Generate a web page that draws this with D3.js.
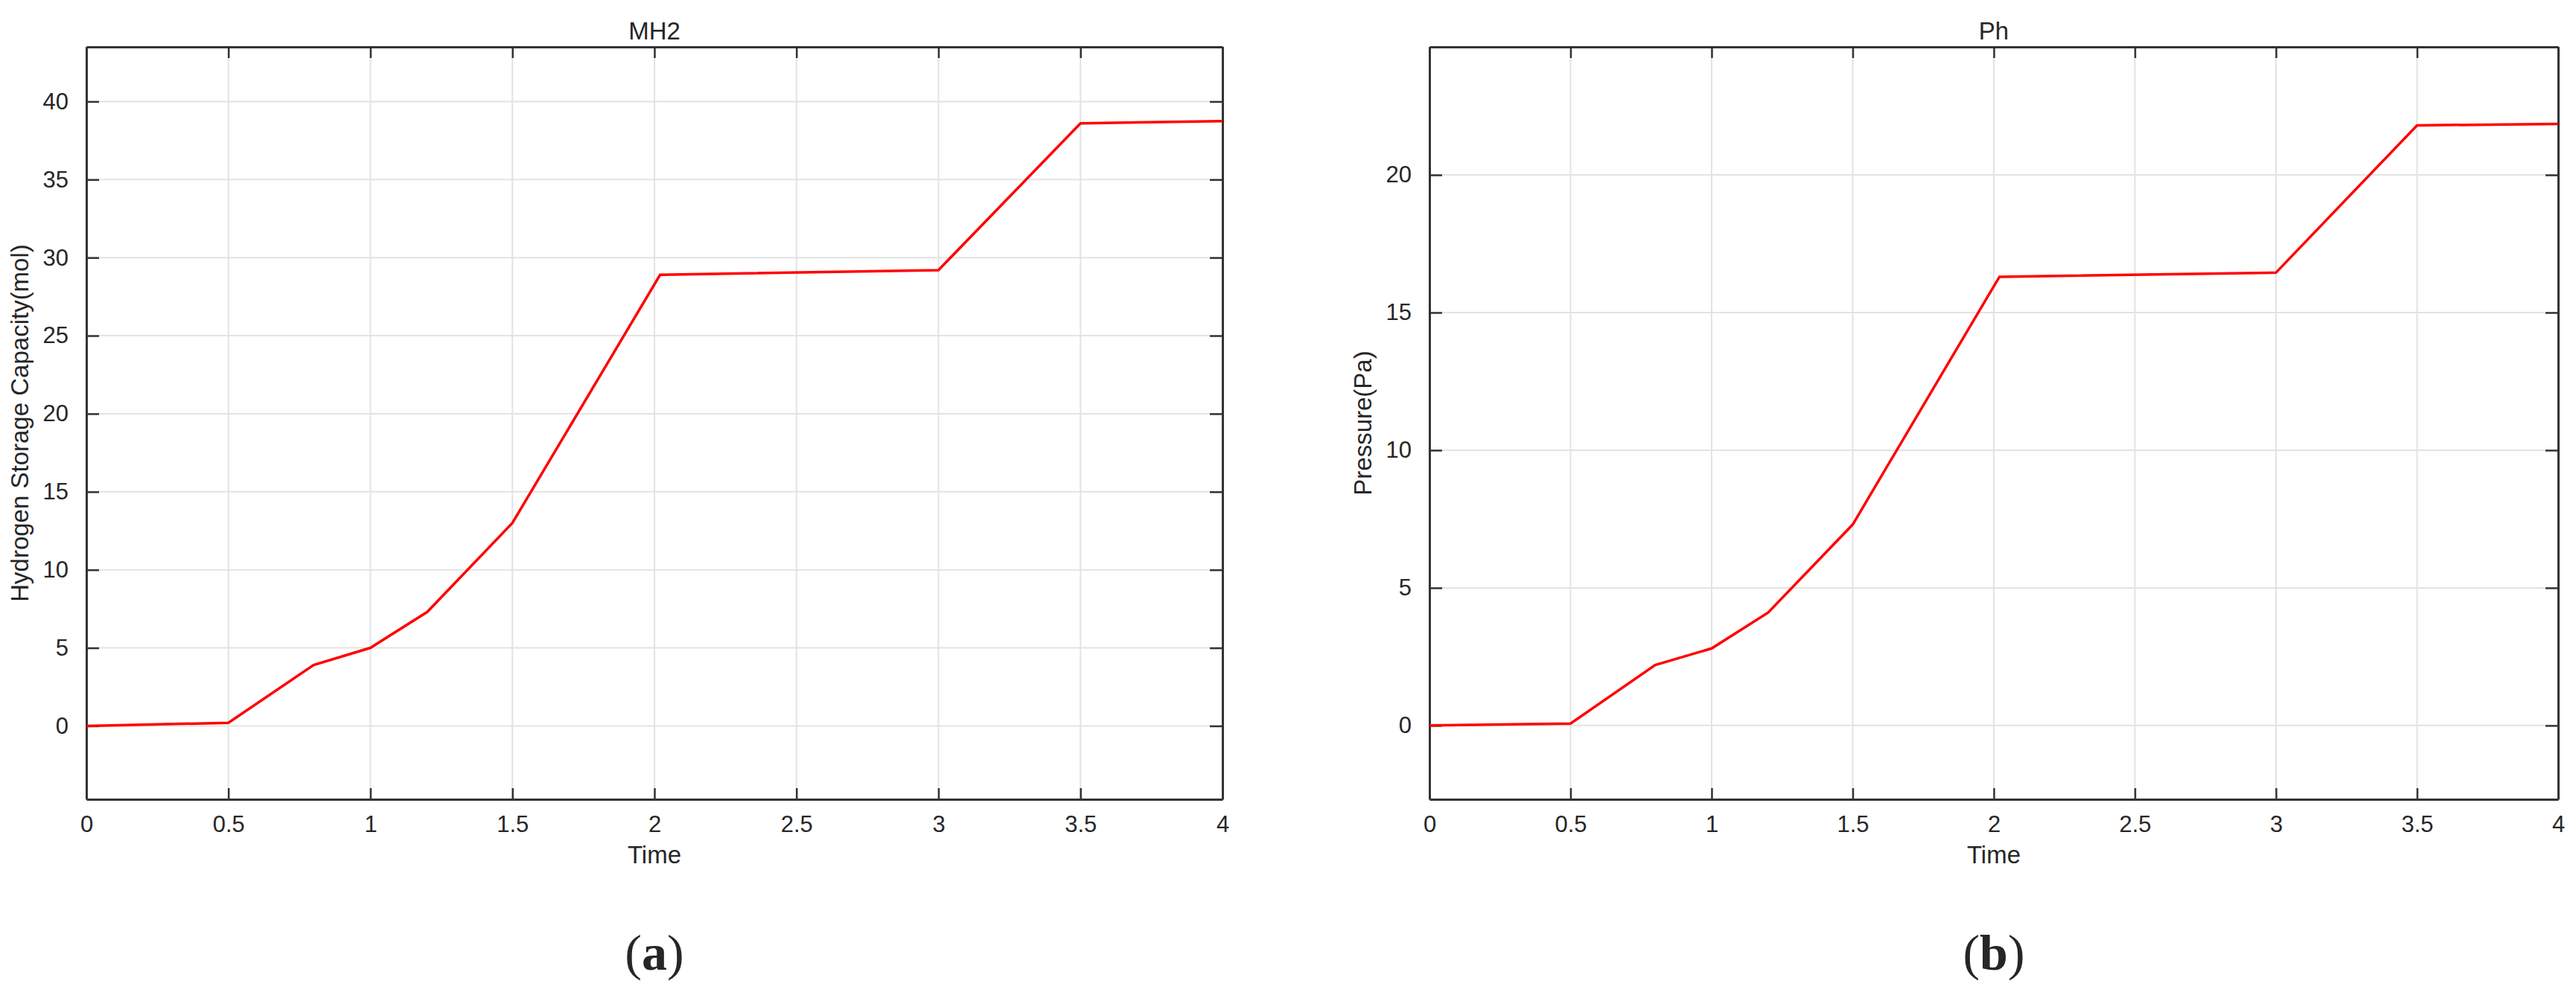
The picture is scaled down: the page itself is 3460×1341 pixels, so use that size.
<!DOCTYPE html>
<html><head><meta charset="utf-8">
<script src="https://cdn.jsdelivr.net/npm/d3@7"></script>
<style>body{margin:0;background:#fff}svg text{font-family:Arial,"Liberation Sans",sans-serif;fill:#262626}</style>
</head><body><svg id="c" width="3460" height="1341"></svg>
<script>
const times = [0, 0.5, 0.8, 1.0, 1.2, 1.5, 2.02, 3.0, 3.5, 4.0];
const mh2 = [0, 0.2, 3.9, 5.0, 7.3, 13.0, 28.9, 29.2, 38.6, 38.75];
const ph = [0, 0.07, 2.2, 2.8, 4.1, 7.3, 16.3, 16.45, 21.8, 21.85];
const xTicks = [0, 0.5, 1, 1.5, 2, 2.5, 3, 3.5, 4];
const mh2Ticks = [0, 5, 10, 15, 20, 25, 30, 35, 40];
const phTicks = [0, 5, 10, 15, 20];

(function(){
const svg = d3.select("#c");
const panels = [
  {title:"MH2", ylab:"Hydrogen Storage Capacity(mol)", vals:mh2, yd:[-4.7,43.5], yt:mh2Ticks, x0:116, x1:1642, lab:"a"},
  {title:"Ph", ylab:"Pressure(Pa)", vals:ph, yd:[-2.68,24.65], yt:phTicks, x0:1920, x1:3436, lab:"b"}
];
const pTop=63, pBot=1074;
panels.forEach(p=>{
  const x=d3.scaleLinear().domain([0,4]).range([p.x0,p.x1]);
  const y=d3.scaleLinear().domain(p.yd).range([pBot,pTop]);
  const g=svg.append("g");
  g.append("g").selectAll("line").data(xTicks).join("line").attr("x1",d=>x(d)).attr("x2",d=>x(d)).attr("y1",pTop).attr("y2",pBot).attr("stroke","#e3e3e3").attr("stroke-width",2);
  g.append("g").selectAll("line").data(p.yt).join("line").attr("y1",d=>y(d)).attr("y2",d=>y(d)).attr("x1",p.x0).attr("x2",p.x1).attr("stroke","#e3e3e3").attr("stroke-width",2);
  const ax=(gen,tr)=>g.append("g").attr("transform",tr).call(gen).call(s=>{s.select(".domain").attr("stroke","#333").attr("stroke-width",3);s.selectAll(".tick line").attr("stroke","#333").attr("stroke-width",2.5);s.selectAll("text").style("font-size","31px").style("font-family","Arial,'Liberation Sans',sans-serif").attr("fill","#262626");});
  ax(d3.axisBottom(x).tickValues(xTicks).tickSize(-15).tickPadding(22).tickSizeOuter(0).tickFormat(d3.format("")),`translate(0,${pBot})`);
  ax(d3.axisTop(x).tickValues(xTicks).tickSize(-15).tickSizeOuter(0).tickFormat(""),`translate(0,${pTop})`);
  ax(d3.axisLeft(y).tickValues(p.yt).tickSize(-17).tickPadding(24).tickSizeOuter(0),`translate(${p.x0},0)`);
  ax(d3.axisRight(y).tickValues(p.yt).tickSize(-17).tickSizeOuter(0).tickFormat(""),`translate(${p.x1},0)`);
  const line=d3.line().x((d,i)=>x(times[i])).y(d=>y(d));
  g.append("path").datum(p.vals).attr("d",line).attr("fill","none").attr("stroke","#ff0000").attr("stroke-width",3.5);
  const cx=(p.x0+p.x1)/2;
  g.append("text").attr("x",cx).attr("y",53).attr("text-anchor","middle").style("font-size","33px").text(p.title);
  g.append("text").attr("x",cx).attr("y",1160).attr("text-anchor","middle").style("font-size","33px").text("Time");
  g.append("text").attr("transform",`translate(${p.x0-78},${(pTop+pBot)/2}) rotate(-90)`).attr("text-anchor","middle").style("font-size","33px").text(p.ylab);
  const t=g.append("text").attr("x",cx).attr("y",1303).attr("text-anchor","middle").style("font-size","68px").style("font-family","'Liberation Serif','DejaVu Serif',serif").attr("fill","#000");
  t.append("tspan").text("(");t.append("tspan").attr("font-weight","bold").text(p.lab);t.append("tspan").text(")");
});
})();
</script></body></html>
